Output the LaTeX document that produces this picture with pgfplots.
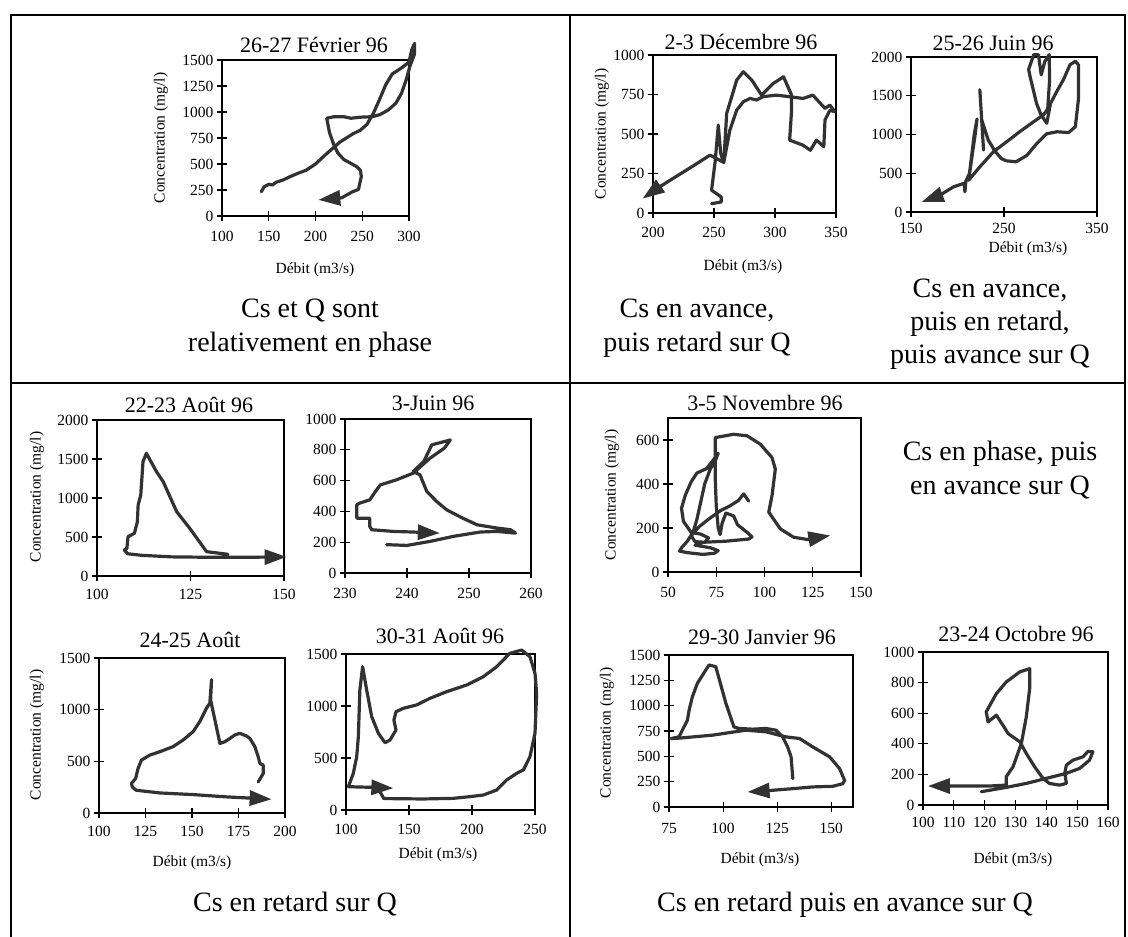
\documentclass[border=0pt]{standalone}
\usepackage{fontspec}
\setmainfont{Liberation Serif}
\usepackage{pgfplots}
\pgfplotsset{compat=1.18}
\usetikzlibrary{arrows.meta}
\definecolor{cur}{RGB}{50,50,50}
\pgfplotsset{
  mini/.style={
    scale only axis, clip=false, anchor=south west,
    axis line style={line width=1.3pt, black},
    tick style={line width=1.2pt, black},
    major tick length=10pt, tick align=center,
    tick pos=left,
    tick label style={font=\fontsize{15.5}{16}\selectfont},
    /pgf/number format/assume math mode=true,
    /pgf/number format/1000 sep={},
    scaled ticks=false,
  },
  cv/.style={line width=3.2pt, color=cur, line join=round, line cap=round, mark=none},
  arr/.style={-{Triangle[length=22pt,width=15pt]}},
}
\newcommand{\ttl}{\fontsize{22}{24}\selectfont}
\newcommand{\lbl}{\fontsize{15.5}{17}\selectfont}
\newcommand{\capf}{\fontsize{28}{30}\selectfont}
\begin{document}
\begin{tikzpicture}
\useasboundingbox (0,0) rectangle (1128pt,937pt);
% panel frame (no bottom line)
\draw[line width=2pt] (11pt,0pt) -- (11pt,922pt) -- (1125pt,922pt) -- (1125pt,0pt);
\draw[line width=2pt] (570pt,922pt) -- (570pt,0pt);
\draw[line width=2pt] (11pt,554pt) -- (1125pt,554pt);

% ---------- Plot 1 ----------
\node[font=\ttl] at (314pt,892pt) {26-27 Février 96};
\node[font=\lbl,rotate=90] at (161pt,799pt) {Concentration (mg/l)};
\node[font=\lbl] at (315pt,667pt) {Débit (m3/s)};
\begin{axis}[mini, at={(222pt,721pt)}, width=187pt, height=156pt, xticklabel style={yshift=-7pt},
  xmin=100,xmax=300,ymin=0,ymax=1500, xtick={100,150,...,300}, ytick={0,250,...,1500}]
\addplot[cv,arr] coordinates {(142,234)(145,280)(150,305)(154,298)(158,325)(165,345)(172,375)(181,410)(190,440)(200,500)(212,600)(226,710)(240,790)(248,825)(255,880)(262,990)(268,1110)(275,1260)(282,1365)(293,1430)(300,1480)(303,1600)(306,1660)(306,1560)(301,1440)(297,1310)(292,1180)(286,1085)(278,1020)(269,975)(261,955)(248,950)(238,940)(230,955)(220,955)(212,940)(215,800)(220,675)(224,605)(230,545)(237,510)(244,475)(248,440)(249,380)(247,300)(246,255)(240,235)(234,205)(228,175)(203,155)};
\end{axis}
\node[font=\capf,anchor=base] at (310pt,619pt) {Cs et Q sont};
\node[font=\capf,anchor=base] at (310pt,585pt) {relativement en phase};

% ---------- Plot 2 ----------
\node[font=\ttl] at (741pt,895pt) {2-3 Décembre 96};
\node[font=\lbl,rotate=90] at (602pt,803pt) {Concentration (mg/l)};
\node[font=\lbl] at (743pt,670pt) {Débit (m3/s)};
\begin{axis}[mini, at={(653pt,724pt)}, width=183pt, height=158pt, xticklabel style={yshift=-6pt},
  xmin=200,xmax=350,ymin=0,ymax=1000, xtick={200,250,...,350}, ytick={0,250,...,1000}]
\addplot[cv,arr] coordinates {(248,59)(256,70)(256,101)(252,123)(248,144)(251,330)(253.5,556)(255.5,376)(258,320)(263,524)(268.6,651)(274,704)(279.5,725)(285,715)(290,736)(301,746)(312,736)(323,725)(331,746)(341,662)(345,683)(349,641)(345,650)(341,590)(340,420)(334,461)(329,397)(323,429)(312,461)(313.6,651)(313.6,746)(307,862)(298.6,820)(289,746)(281,841)(274,894)(268.6,841)(260.4,630)(258,320)(246.7,366)(236,313)(225,260)(214,207)(203,154)(191.5,91)};
\end{axis}
\node[font=\capf,anchor=base] at (697pt,619pt) {Cs en avance,};
\node[font=\capf,anchor=base] at (697pt,585pt) {puis retard sur Q};

% ---------- Plot 3 ----------
\node[font=\ttl] at (993pt,894pt) {25-26 Juin 96};
\node[font=\lbl] at (1028pt,688pt) {Débit (m3/s)};
\begin{axis}[mini, at={(911pt,725pt)}, width=186pt, height=155pt, xticklabel style={yshift=-3pt},
  xmin=150,xmax=350,ymin=0,ymax=2000, xtick={150,250,350}, ytick={0,500,...,2000}]
\addplot[cv,arr] coordinates {(228,800)(224,1577)(226,1190)(233,930)(240,790)(247,690)(252.5,660)(263,648)(274.6,730)(285,880)(296,1010)(307,1035)(319.5,1025)(326.7,1100)(330,1450)(330,1900)(326.7,1945)(321,1900)(314,1710)(307,1560)(300,1400)(296,1145)(290,1250)(285,1400)(278,1750)(276.5,1840)(282,2030)(287,2030)(290,1770)(294,1945)(298.6,2030)(299,1700)(297,1330)(292.5,1253)(282,1166)(267,1037)(253,907)(238.7,778)(224,583)(212,410)(218,1000)(221,1200)(219,1000)(213,500)(209,400)(208,260)(207,370)(195.6,324)(181,216)(161.5,130)};
\end{axis}
\node[font=\capf,anchor=base] at (990pt,639pt) {Cs en avance,};
\node[font=\capf,anchor=base] at (990pt,606pt) {puis en retard,};
\node[font=\capf,anchor=base] at (990pt,573pt) {puis avance sur Q};

% ---------- Plot 4 ----------
\node[font=\ttl] at (189pt,532pt) {22-23 Août 96};
\node[font=\lbl,rotate=90] at (37pt,440pt) {Concentration (mg/l)};
\begin{axis}[mini, at={(97pt,361pt)}, width=187pt, height=156pt, xticklabel style={yshift=-5pt},
  xmin=100,xmax=150,ymin=0,ymax=2000, xtick={100,125,150}, ytick={0,500,...,2000}]
\addplot[cv,arr] coordinates {(135,278)(129.3,312)(124.8,611)(121.3,825)(117.7,1209)(115.9,1338)(113.2,1573)(112.3,1466)(111.7,1038)(111,910)(110.8,697)(110,547)(108.3,504)(108,355)(107.3,333)(108.2,285)(112,265)(120,245)(130,240)(140,240)(150.7,245)};
\end{axis}

% ---------- Plot 5 ----------
\node[font=\ttl] at (433pt,534pt) {3-Juin 96};
\begin{axis}[mini, at={(345pt,364pt)}, width=186pt, height=154pt, xticklabel style={yshift=-7pt},
  xmin=230,xmax=260,ymin=0,ymax=1000, xtick={230,240,250,260}, ytick={0,200,...,1000}]
\addplot[cv,arr] coordinates {(236.7,184)(240,179)(243.7,205)(247.5,238)(251.8,266)(254.5,270)(257.5,259)(256.7,281)(254.5,292)(251.3,313)(249,356)(246.4,410)(244.8,464)(243.2,529)(242.1,637)(241,659)(242.7,724)(244,832)(247,864)(246,810)(243.7,745)(241,648)(238.3,605)(235.7,572)(235.1,540)(234,475)(232.4,454)(231.9,443)(231.9,356)(234,356)(234,302)(234.3,281)(237.8,270)(241,266)(245.3,259)};
\end{axis}

% ---------- Plot 6 ----------
\node[font=\ttl] at (190pt,297pt) {24-25 Août};
\node[font=\lbl,rotate=90] at (37pt,202pt) {Concentration (mg/l)};
\node[font=\lbl] at (192pt,74pt) {Débit (m3/s)};
\begin{axis}[mini, at={(99pt,124pt)}, width=186pt, height=155pt, xticklabel style={yshift=-5pt},
  xmin=100,xmax=200,ymin=0,ymax=1500, xtick={100,125,...,200}, ytick={0,500,...,1500}]
\addplot[cv,arr] coordinates {(185.6,301)(188.3,382)(188.3,463)(186.5,480)(185.6,544)(183.8,642)(181.1,722)(179.3,745)(175.7,771)(173,755)(170.4,722)(167.7,690)(165,674)(160,1095)(160.5,1290)(159.6,1063)(157.8,1014)(154.2,885)(150.6,787)(145.2,706)(139.8,642)(132.7,593)(127.3,560)(122.8,512)(121,431)(119.7,334)(117.4,285)(118,250)(120,220)(132.7,194)(150.6,178)(168.6,156)(192.8,133)};
\end{axis}

% ---------- Plot 7 ----------
\node[font=\ttl] at (440pt,301pt) {30-31 Août 96};
\node[font=\lbl] at (438pt,82pt) {Débit (m3/s)};
\begin{axis}[mini, at={(346pt,127pt)}, width=189pt, height=156pt, xticklabel style={yshift=-6pt},
  xmin=100,xmax=250,ymin=0,ymax=1500, xtick={100,150,...,250}, ytick={0,500,...,1500}]
\addplot[cv] coordinates {(127,175)(130,110)(161,106)(185,112)(198,128)(209,144)(219.6,192)(227.5,288)(235.5,353)(240.8,385)(246,513)(250,737)(251.3,1122)(250,1314)(246,1474)(239.4,1538)(230,1506)(219.6,1378)(209,1282)(195.8,1202)(180,1138)(166.7,1074)(156,1010)(145.5,978)(139.7,945)(138,865)(139.7,769)(134.9,673)(131,647)(125.7,737)(120.4,897)(116.4,1154)(113.2,1378)(111,1154)(109.8,705)(108.5,513)(105.8,353)(101.9,224)};
\addplot[cv,arr] coordinates {(101.9,224)(120,218)(137.6,210)};
\end{axis}

% ---------- Plot 8 ----------
\node[font=\ttl] at (765pt,534pt) {3-5 Novembre 96};
\node[font=\lbl,rotate=90] at (612pt,442pt) {Concentration (mg/l)};
\begin{axis}[mini, at={(668pt,365pt)}, width=193pt, height=154pt, xticklabel style={yshift=-7pt},
  xmin=50,xmax=150,ymin=0,ymax=700, xtick={50,75,...,150}, ytick={0,200,400,600}]
\addplot[cv,arr] coordinates {(91.8,322)(89.2,355)(86.5,325)(82,300)(77,278)(71,240)(66,205)(62,165)(64,138)(69,135)(71,155)(67,172)(62,180)(58,230)(57,290)(59,350)(62,410)(65,450)(70,470)(74,515)(76,540)(74.5,505)(72,470)(69,400)(67,320)(65,240)(63,180)(60,140)(57,110)(56,95)(60,88)(68,80)(74,85)(76,97)(72,110)(64,122)(68,135)(80,140)(92,150)(93.5,160)(91,180)(86,215)(84,255)(80,268)(78,220)(77,170)(76,200)(75,300)(74.5,420)(74.5,520)(74.5,611)(84,626)(91,619)(97.8,581)(103.9,520)(105.6,468)(103.9,347)(102.2,272)(108.2,196)(115.1,158)(122,148)(134.1,166)};
\end{axis}
\node[font=\capf,anchor=base] at (1000pt,476pt) {Cs en phase, puis};
\node[font=\capf,anchor=base] at (1000pt,442pt) {en avance sur Q};

% ---------- Plot 9 ----------
\node[font=\ttl] at (762pt,300pt) {29-30 Janvier 96};
\node[font=\lbl,rotate=90] at (607pt,204pt) {Concentration (mg/l)};
\node[font=\lbl] at (760pt,77pt) {Débit (m3/s)};
\begin{axis}[mini, at={(669pt,130pt)}, width=184pt, height=152pt, xticklabel style={yshift=-8pt},
  xmin=75,xmax=160,ymin=0,ymax=1500, xtick={75,100,125,150}, ytick={0,250,...,1500}]
\addplot[cv,arr] coordinates {(132.2,280)(131.4,495)(129.8,593)(127.5,692)(124.4,758)(119.8,775)(113.6,768)(107.4,775)(105,790)(101.3,1022)(96.6,1385)(93.5,1401)(92,1352)(88.1,1220)(85.8,1088)(84.3,956)(83.5,857)(79.6,692)(76,676)(80,680)(95.1,709)(110.5,758)(119.8,742)(129,692)(135.3,676)(141.4,593)(149.2,495)(153.8,379)(156.1,264)(155.4,231)(150.7,204)(141.4,198)(132.2,181)(122.9,165)(111.3,148)};
\end{axis}

% ---------- Plot 10 ----------
\node[font=\ttl] at (1016pt,303pt) {23-24 Octobre 96};
\node[font=\lbl] at (1013pt,77pt) {Débit (m3/s)};
\begin{axis}[mini, at={(923pt,132pt)}, width=185pt, height=153pt, xticklabel style={yshift=-4pt},
  xmin=100,xmax=160,ymin=0,ymax=1000, xtick={100,110,...,160}, ytick={0,200,...,1000}]
\addplot[cv,arr] coordinates {(118.9,87)(127,115)(133.5,141)(140,174)(146.5,207)(150.8,239)(154,293)(155.1,348)(153.5,350)(151.9,315)(148.6,293)(146.5,261)(146,210)(146.5,141)(144.3,130)(141,141)(138.9,174)(136.2,250)(133.5,337)(131.4,413)(127.6,467)(125.9,522)(123.8,587)(121.1,543)(120.5,609)(123.8,728)(127,804)(131.4,870)(134.6,891)(134.6,761)(133.5,576)(131.9,402)(129.2,250)(127,185)(127,130)(121.6,124)(114,124)(101.6,124)};
\end{axis}

\node[font=\capf,anchor=base] at (295pt,25pt) {Cs en retard sur Q};
\node[font=\capf,anchor=base] at (845pt,25pt) {Cs en retard puis en avance sur Q};
\end{tikzpicture}
\end{document}
